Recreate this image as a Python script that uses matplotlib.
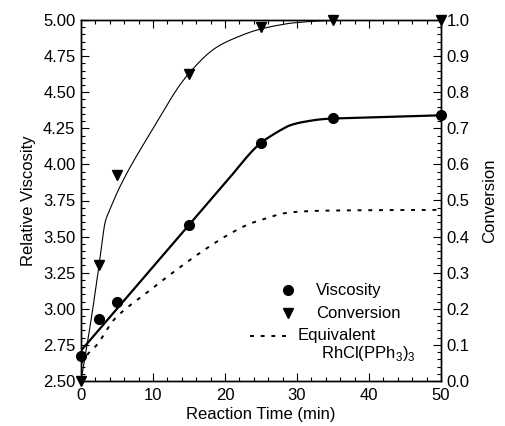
import numpy as np
import matplotlib.pyplot as plt
from matplotlib.ticker import MultipleLocator

plt.rcParams['font.family'] = ['Liberation Sans', 'DejaVu Sans']
plt.rcParams['mathtext.fontset'] = 'custom'
plt.rcParams['mathtext.rm'] = 'Liberation Sans'

# measured points
t_pts = [0, 2.5, 5, 15, 25, 35, 50]
visc_pts = [2.67, 2.93, 3.05, 3.58, 4.15, 4.32, 4.34]
conv_pts = [0.0, 0.32, 0.57, 0.85, 0.98, 1.0, 1.0]

# fitted curves
t_visc_fit = [0, 2.5, 5, 10, 15, 20, 25, 26, 28, 29, 31, 34, 40, 50]
visc_fit = [2.71, 2.855, 3.0, 3.29, 3.58, 3.87, 4.15, 4.185, 4.245, 4.27, 4.295, 4.315, 4.325, 4.34]

t_conv_fit = [0, 1.25, 2.5, 2.8, 3.1, 3.35, 4.0, 5.4, 9.6, 14.7, 18.8, 22, 24.4, 27, 29.5, 34, 40, 50]
conv_fit = [0.0, 0.15, 0.32, 0.365, 0.41, 0.44, 0.474, 0.538, 0.686, 0.845, 0.924,
            0.955, 0.972, 0.984, 0.992, 0.998, 1.0, 1.0]

# equivalent RhCl(PPh3)3 curve
t_equiv = [0, 1, 2.2, 4.5, 9.1, 14.9, 17.2, 20, 23.5, 26, 28, 31, 34.3, 40, 50]
visc_equiv = [2.62, 2.69, 2.75, 2.92, 3.11, 3.33, 3.41, 3.50, 3.59, 3.63, 3.66, 3.675, 3.68, 3.683, 3.685]


def pchip(x, y, n=400):
    # monotone cubic through the knots, just to draw the curves smooth
    x = np.asarray(x, float)
    y = np.asarray(y, float)
    h = np.diff(x)
    d = np.diff(y) / h
    m = np.zeros_like(y)
    for k in range(1, len(x) - 1):
        if d[k - 1] * d[k] > 0:
            w1 = 2 * h[k] + h[k - 1]
            w2 = h[k] + 2 * h[k - 1]
            m[k] = (w1 + w2) / (w1 / d[k - 1] + w2 / d[k])
    m[0] = d[0]
    m[-1] = d[-1]
    xs = np.linspace(x[0], x[-1], n)
    i = np.clip(np.searchsorted(x, xs) - 1, 0, len(h) - 1)
    s = (xs - x[i]) / h[i]
    h00 = 2 * s**3 - 3 * s**2 + 1
    h10 = s**3 - 2 * s**2 + s
    h01 = -2 * s**3 + 3 * s**2
    h11 = s**3 - s**2
    ys = h00 * y[i] + h10 * h[i] * m[i] + h01 * y[i + 1] + h11 * h[i] * m[i + 1]
    return xs, ys


fig = plt.figure(figsize=(5.06, 4.26), dpi=100)
ax = fig.add_axes([81/506, 1 - 381/426, 360/506, 361/426])
ax2 = ax.twinx()

ax.plot(*pchip(t_visc_fit, visc_fit), color='black', lw=1.6)
ax.plot(t_pts, visc_pts, 'o', color='black', ms=7, clip_on=False, zorder=5)
ax.plot(*pchip(t_equiv, visc_equiv), color='black', lw=1.4, linestyle=(0, (2, 3.5)))

ax2.plot(*pchip(t_conv_fit, conv_fit), color='black', lw=0.8)
ax2.plot(t_pts, conv_pts, 'v', color='black', ms=6.5, clip_on=False, zorder=5)

ax.set_xlim(0, 50)
ax.set_ylim(2.5, 5.0)
ax2.set_ylim(0, 1.0)

ax.xaxis.set_major_locator(MultipleLocator(10))
ax.xaxis.set_minor_locator(MultipleLocator(2))
ax.yaxis.set_major_locator(MultipleLocator(0.25))
ax.yaxis.set_minor_locator(MultipleLocator(0.05))
ax2.yaxis.set_major_locator(MultipleLocator(0.1))
ax2.yaxis.set_minor_locator(MultipleLocator(0.02))
ax.yaxis.set_major_formatter(plt.FormatStrFormatter('%.2f'))
ax2.yaxis.set_major_formatter(plt.FormatStrFormatter('%.1f'))

fs = 12
ax.tick_params(axis='x', which='both', direction='in', top=True, labelsize=fs, pad=5)
ax.tick_params(axis='y', which='both', direction='in', right=False, labelsize=fs, pad=4)
ax.tick_params(which='major', length=6, width=0.8)
ax.tick_params(which='minor', length=3, width=0.8)
ax2.tick_params(axis='y', which='both', direction='in', labelsize=fs, pad=4)
ax2.tick_params(which='major', length=6, width=0.8)
ax2.tick_params(which='minor', length=3, width=0.8)
for a in (ax, ax2):
    for s in a.spines.values():
        s.set_linewidth(1.0)

ax.set_xlabel('Reaction Time (min)', fontsize=fs, labelpad=3)
ax.set_ylabel('Relative Viscosity', fontsize=fs, labelpad=5)
ax2.set_ylabel('Conversion', fontsize=fs, labelpad=9)

# legend drawn by hand to mimic the original layout
ax.plot([0.575], [0.252], 'o', color='black', ms=7, transform=ax.transAxes)
ax.text(0.653, 0.252, 'Viscosity', transform=ax.transAxes, va='center', fontsize=fs)
ax.plot([0.575], [0.188], 'v', color='black', ms=6.5, transform=ax.transAxes)
ax.text(0.653, 0.188, 'Conversion', transform=ax.transAxes, va='center', fontsize=fs)
ax.plot([0.469, 0.572], [0.125, 0.125], color='black', lw=1.4, linestyle=(0, (2, 3.5)),
        transform=ax.transAxes)
ax.text(0.603, 0.125, 'Equivalent', transform=ax.transAxes, va='center', fontsize=fs)
ax.text(0.667, 0.076, r'RhCl(PPh$_3$)$_3$', transform=ax.transAxes, va='center', fontsize=fs)

fig.savefig('out.png', dpi=100)
